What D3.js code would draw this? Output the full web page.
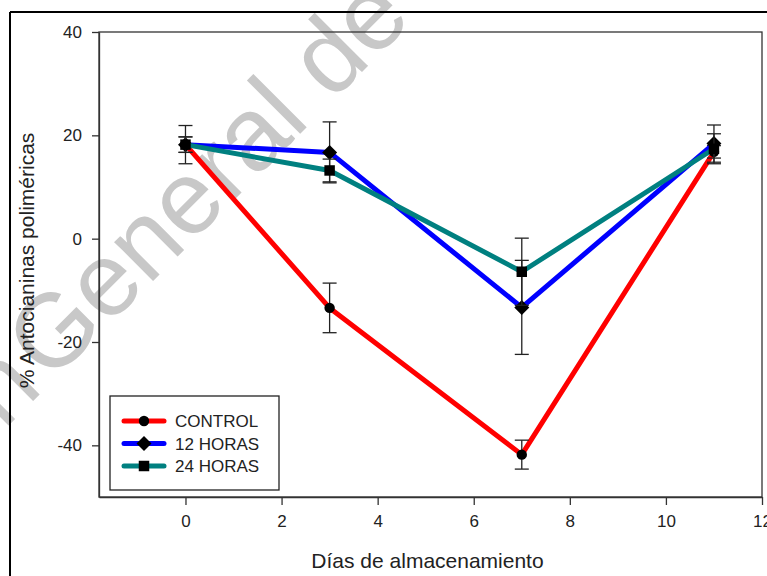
<!DOCTYPE html>
<html>
<head>
<meta charset="utf-8">
<script src="https://cdn.jsdelivr.net/npm/d3@7"></script>
<style>
html,body{margin:0;padding:0;background:#fff;}
svg{display:block;}
text{font-family:"Liberation Sans",Arial,sans-serif;}
</style>
</head>
<body>
<svg id="chart" width="767" height="576"></svg>
<script>
// ---- data ----
const days = [0, 3, 7, 11];
const seriesNames = ["CONTROL", "12 HORAS", "24 HORAS"];
const controlValues = [18.2, -13.4, -41.8, 16.8];
const controlErr = [3.7, 4.8, 2.8, 1.2];
const h12Values = [18.2, 16.7, -13.3, 18.4];
const h12Err = [1.5, 5.9, 9.1, 3.6];
const h24Values = [18.2, 13.2, -6.4, 17.4];
const h24Err = [1.5, 2.2, 6.5, 2.9];
const xTicks = [0, 2, 4, 6, 8, 10, 12];
const yTicks = [-40, -20, 0, 20, 40];
const seriesColors = ["#ff0000", "#0000ff", "#008080"];
const seriesSymbols = ["circle", "diamond", "square"];

const series = seriesNames.map((name, i) => ({
  name,
  values: [controlValues, h12Values, h24Values][i],
  err: [controlErr, h12Err, h24Err][i],
  color: seriesColors[i],
  symbol: seriesSymbols[i]
}));

const svg = d3.select("#chart");
const W = 767, H = 576;
const m = {left: 99, right: 762, top: 32, bottom: 497};

const x = d3.scaleLinear().domain([-1.8, 12]).range([m.left, m.right]);
const y = d3.scaleLinear().domain([-50, 40]).range([m.bottom, m.top]);
const fmt = d => String(d); // plain hyphen minus

// watermark (behind)
const wm = svg.append("g")
  .attr("transform", "translate(50,384) rotate(-45)")
  .attr("fill", "#c8c8c8")
  .style("font-size", "104px");
wm.append("text").attr("x", 0).attr("y", 0).attr("text-anchor", "start").text("General de Bibliotecas");
wm.append("text").attr("x", -8).attr("y", 0).attr("text-anchor", "end").text("Dirección");

// page frame
svg.append("line").attr("x1", 10).attr("x2", W).attr("y1", 12).attr("y2", 12)
  .attr("stroke", "#000").attr("stroke-width", 2);
svg.append("line").attr("x1", 10).attr("x2", 10).attr("y1", 12).attr("y2", H)
  .attr("stroke", "#000").attr("stroke-width", 2);

// plot frame
svg.append("rect").attr("x", m.left).attr("y", m.top)
  .attr("width", m.right - m.left).attr("height", m.bottom - m.top)
  .attr("fill", "none").attr("stroke", "#333").attr("stroke-width", 1.3);

// axes
const xAxis = svg.append("g").attr("transform", `translate(0,${m.bottom})`)
  .call(d3.axisBottom(x).tickValues(xTicks).tickSizeInner(8).tickSizeOuter(0).tickPadding(10).tickFormat(fmt));
const yAxis = svg.append("g").attr("transform", `translate(${m.left},0)`)
  .call(d3.axisLeft(y).tickValues(yTicks).tickSizeInner(7).tickSizeOuter(0).tickPadding(10).tickFormat(fmt));
[xAxis, yAxis].forEach(a => {
  a.select(".domain").attr("stroke", "#333").attr("stroke-width", 1.3);
  a.selectAll(".tick line").attr("stroke", "#333").attr("stroke-width", 1.3);
  a.selectAll(".tick text").attr("fill", "#222").style("font-size", "17px")
   .style("font-family", '"Liberation Sans",Arial,sans-serif');
});

// axis titles
svg.append("text").attr("x", (m.left + m.right) / 2 - 3).attr("y", 568)
  .attr("text-anchor", "middle").attr("fill", "#222").style("font-size", "21px")
  .text("Días de almacenamiento");
svg.append("text").attr("transform", `translate(34,${(m.top + m.bottom) / 2 - 4}) rotate(-90)`)
  .attr("text-anchor", "middle").attr("fill", "#222").style("font-size", "21px")
  .text("% Antocianinas poliméricas");

function symbolPath(kind) {
  if (kind === "circle") return d3.symbol().type(d3.symbolCircle).size(85)();
  if (kind === "square") return d3.symbol().type(d3.symbolSquare).size(110)();
  const r = 7.5;
  return `M0,${-r}L${r},0L0,${r}L${-r},0Z`;
}

const line = d3.line().x((d, i) => x(days[i])).y(d => y(d));

series.forEach(s => {
  const g = svg.append("g");
  g.append("path").datum(s.values).attr("d", line)
    .attr("fill", "none").attr("stroke", s.color).attr("stroke-width", 5)
    .attr("stroke-linejoin", "round").attr("stroke-linecap", "round");
  // error bars
  days.forEach((dv, i) => {
    const cx = x(dv), lo = y(s.values[i] - s.err[i]), hi = y(s.values[i] + s.err[i]);
    g.append("line").attr("x1", cx).attr("x2", cx).attr("y1", lo).attr("y2", hi)
      .attr("stroke", "#222").attr("stroke-width", 1.3);
    [lo, hi].forEach(yy => g.append("line").attr("x1", cx - 7).attr("x2", cx + 7)
      .attr("y1", yy).attr("y2", yy).attr("stroke", "#222").attr("stroke-width", 1.3));
  });
  g.selectAll("path.sym").data(s.values).enter().append("path").attr("class", "sym")
    .attr("d", symbolPath(s.symbol))
    .attr("transform", (d, i) => `translate(${x(days[i])},${y(d)})`)
    .attr("fill", "#000");
});

// legend
const lg = svg.append("g");
lg.append("rect").attr("x", 110).attr("y", 396).attr("width", 169).attr("height", 94)
  .attr("fill", "#fff").attr("stroke", "#222").attr("stroke-width", 1.3);
series.forEach((s, i) => {
  const ly = 421 + i * 22.5;
  lg.append("line").attr("x1", 124).attr("x2", 164).attr("y1", ly).attr("y2", ly)
    .attr("stroke", s.color).attr("stroke-width", 5).attr("stroke-linecap", "round");
  lg.append("path").attr("d", symbolPath(s.symbol))
    .attr("transform", `translate(144,${ly})`).attr("fill", "#000");
  lg.append("text").attr("x", 175).attr("y", ly + 6).attr("fill", "#222")
    .style("font-size", "17px").text(s.name);
});
</script>
</body>
</html>
